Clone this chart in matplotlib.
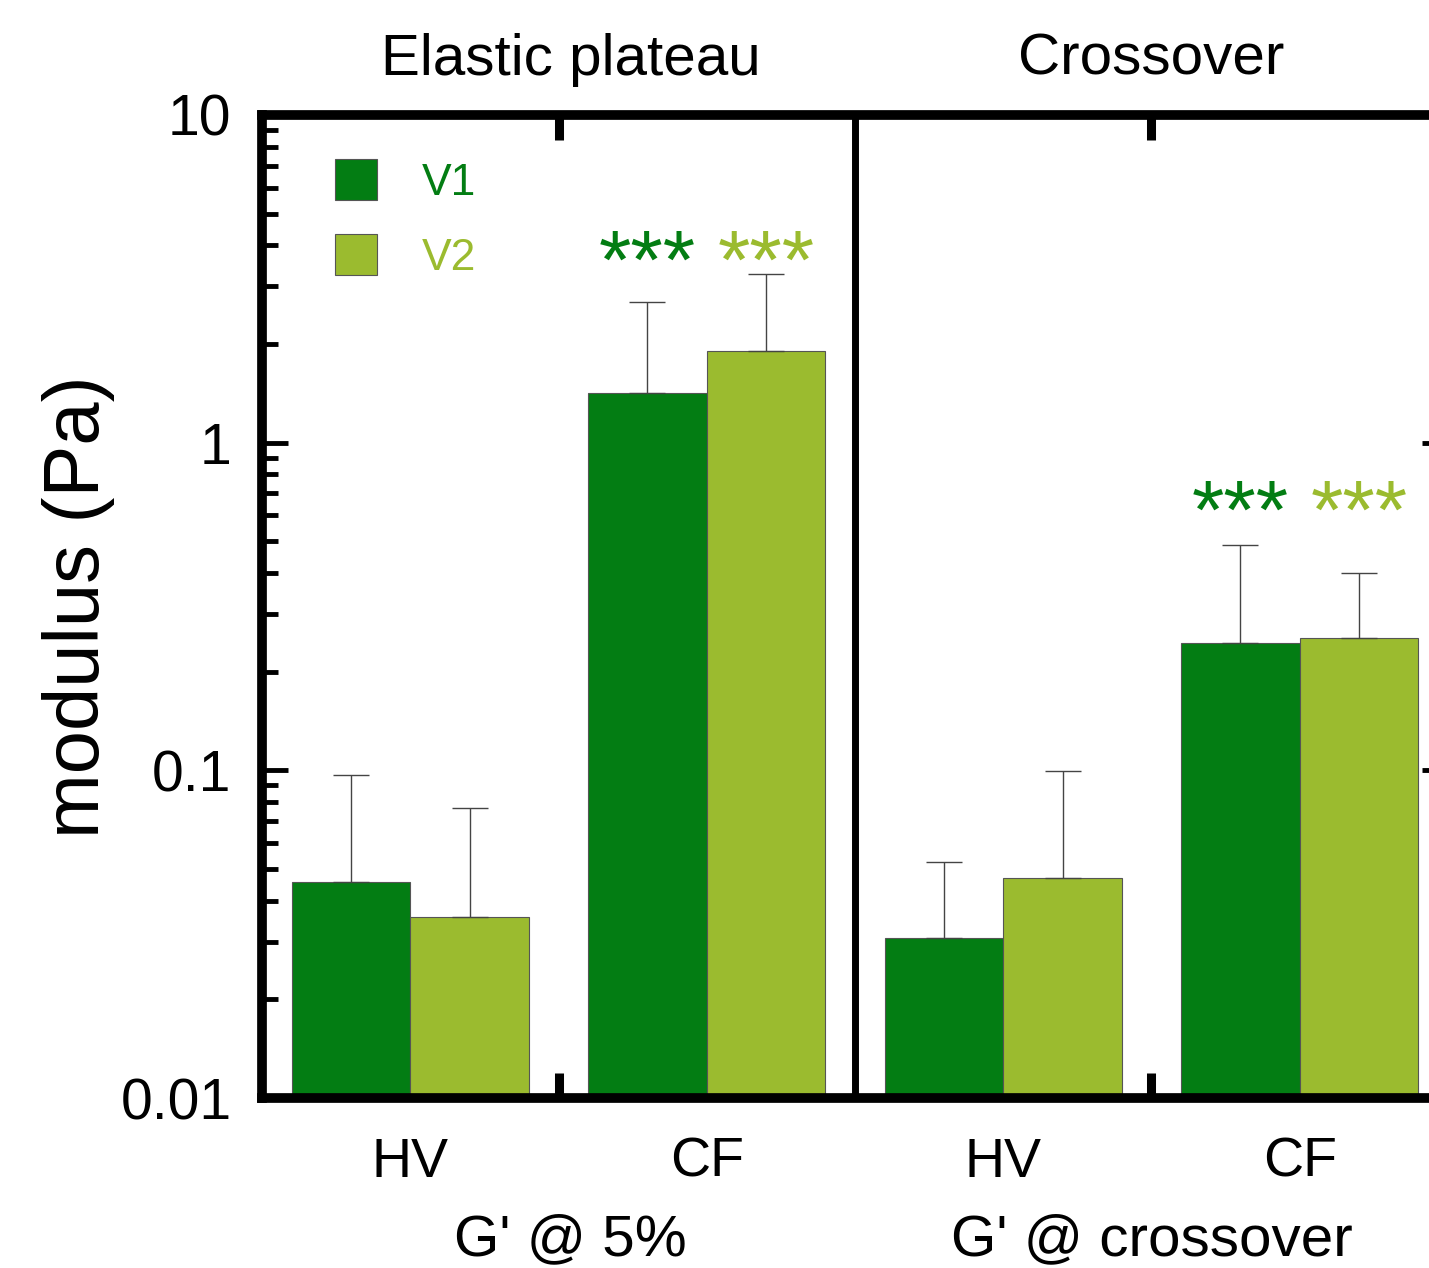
import numpy as np
import matplotlib
matplotlib.use('Agg')
import matplotlib.pyplot as plt
from matplotlib.ticker import FixedLocator, FixedFormatter
import matplotlib.transforms as mtransforms

plt.rcParams['font.family'] = ['Liberation Sans', 'DejaVu Sans']

# --------------------------------Data----------------------------------------
categories = ['HV', 'CF', 'HV', 'CF']
panel_titles = ['Elastic plateau', 'Crossover']
panel_xlabels = ["G' @ 5%", "G' @ crossover"]
series_names = ['V1', 'V2']

v1 = [0.0456, 1.42, 0.0308, 0.2455]
v2 = [0.0356, 1.91, 0.0469, 0.254]
v1_err = [0.051, 1.27, 0.0216, 0.24]
v2_err = [0.041, 1.36, 0.0524, 0.145]

# significance marks: (category index, level)
stars = [(1, 3.45), (3, 0.594)]

ytick_vals = [0.01, 0.1, 1, 10]
ytick_labels = ['0.01', '0.1', '1', '10']

c1 = '#037D13'
c2 = '#9BBB2F'

# --------------------------------Figure--------------------------------------
W, H = 1429, 1268
fig = plt.figure(figsize=(W / 100, H / 100), dpi=100)
ax = fig.add_axes([262 / W, 1 - 1098 / H, (1448 - 262) / W, (1098 - 115) / H])
ax.set_yscale('log')

x = np.arange(len(categories)) + 0.5
bw = 0.4
b1 = ax.bar(x - bw / 2, v1, width=bw, color=c1, edgecolor='#555555', linewidth=0.8, label=series_names[0])
b2 = ax.bar(x + bw / 2, v2, width=bw, color=c2, edgecolor='#555555', linewidth=0.8, label=series_names[1])
ax.errorbar(x - bw / 2, v1, yerr=[np.zeros(len(v1)), v1_err], fmt='none',
            ecolor='#444444', elinewidth=1.0, capsize=13, capthick=1.0)
ax.errorbar(x + bw / 2, v2, yerr=[np.zeros(len(v2)), v2_err], fmt='none',
            ecolor='#444444', elinewidth=1.0, capsize=13, capthick=1.0)

for i, lvl in stars:
    ax.text(x[i] - bw / 2, lvl, '***', color=c1, fontsize=60, ha='center', va='center')
    ax.text(x[i] + bw / 2, lvl, '***', color=c2, fontsize=60, ha='center', va='center')

ax.axvline(2, color='k', lw=5)

ax.set_xlim(0, 4)
ax.set_ylim(0.01, 10)

for s in ax.spines.values():
    s.set_linewidth(7)

ax.yaxis.set_major_locator(FixedLocator(ytick_vals))
ax.yaxis.set_major_formatter(FixedFormatter(ytick_labels))
ax.tick_params(axis='y', which='major', direction='in', length=19, width=3.5,
               left=True, right=True, labelsize=41, pad=22)
ax.tick_params(axis='y', which='minor', direction='in', length=11.5, width=3.5,
               left=True, right=True)

ax.set_xticks(x)
ax.set_xticklabels(categories)
ax.set_xticks([1, 3], minor=True)
ax.tick_params(axis='x', which='major', length=0, labelsize=40, pad=28)
ax.tick_params(axis='x', which='minor', direction='in', length=18, width=6.5,
               top=True, bottom=True)

ax.set_ylabel('modulus (Pa)', fontsize=56, labelpad=4)

trans = mtransforms.blended_transform_factory(ax.transData, ax.transAxes)
for cx, t, xl in zip([1.04, 3.0], panel_titles, panel_xlabels):
    ax.text(cx, 1.056, t, transform=trans, fontsize=42, ha='center', va='center')
    ax.text(cx, -0.1445, xl, transform=trans, fontsize=42, ha='center', va='center')

leg = ax.legend(handles=[b1, b2], loc='upper left',
                bbox_to_anchor=((335 - 262) / 1186, 1 - (159 - 115) / 983),
                frameon=False, fontsize=32, handlelength=0.95, handleheight=1.05,
                handletextpad=1.0, labelspacing=0.68, borderpad=0, borderaxespad=0)
for t, c in zip(leg.get_texts(), [c1, c2]):
    t.set_color(c)

fig.savefig('out.png', dpi=100)
